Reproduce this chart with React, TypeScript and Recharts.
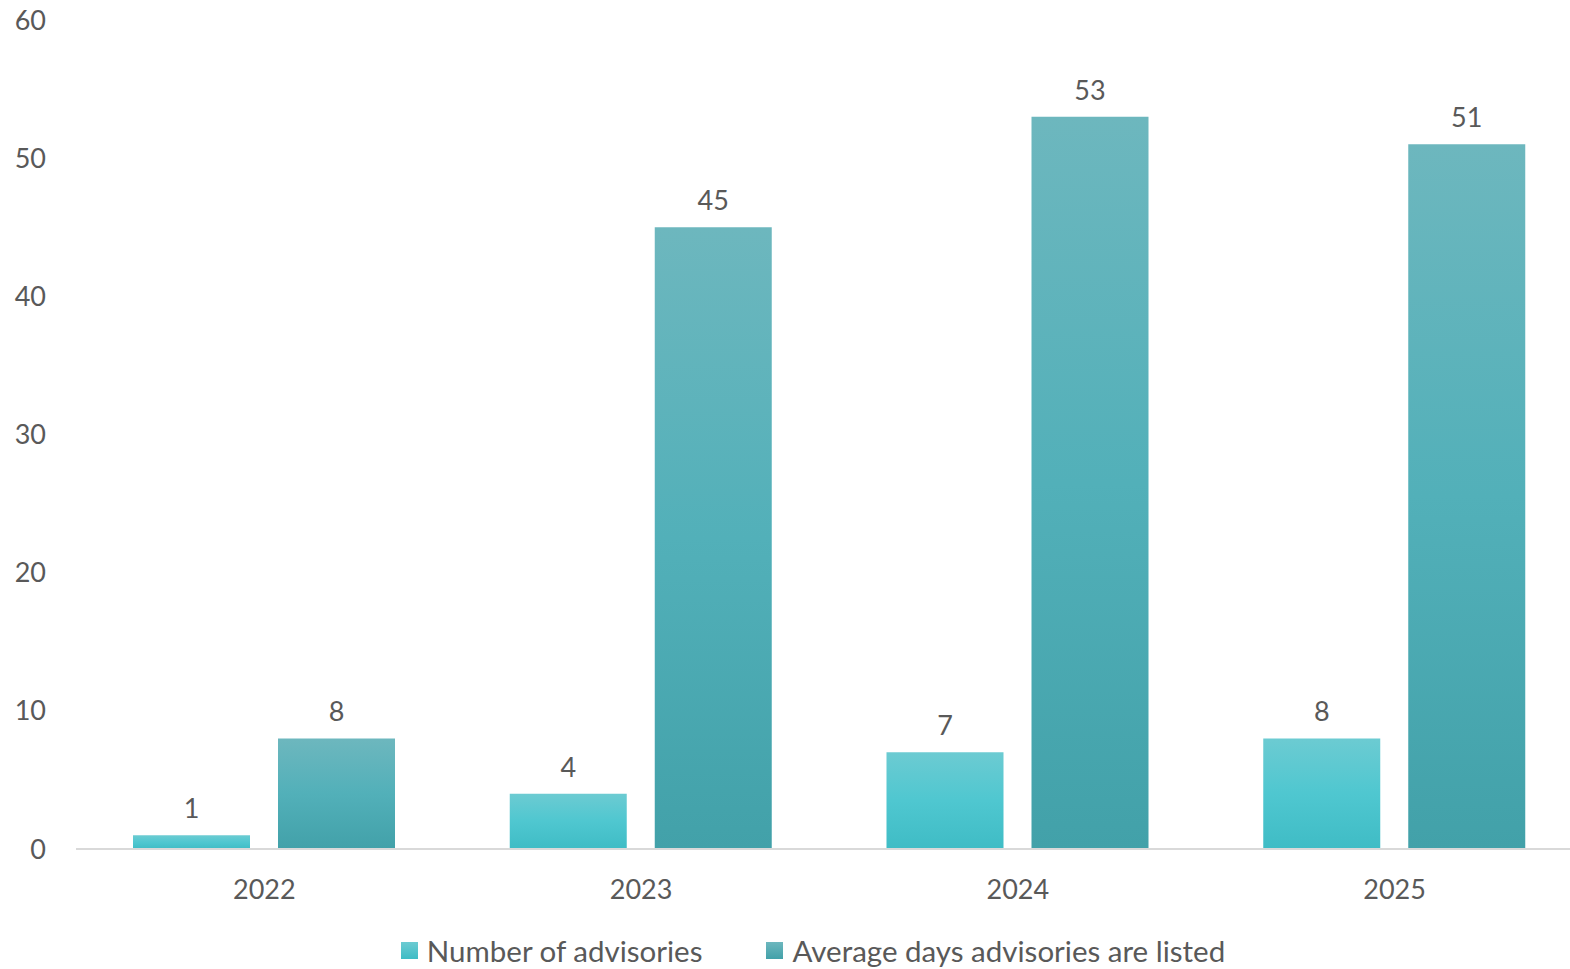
import { Bar, BarChart, LabelList, Legend, XAxis, YAxis } from "recharts";

const YEARS = ["2022", "2023", "2024", "2025"];
const ADVISORIES = [1, 4, 7, 8];
const AVG_DAYS = [8, 45, 53, 51];
const Y_TICKS = [0, 10, 20, 30, 40, 50, 60];

const TEXT = "#595959";
const FONT = "Lato, 'Open Sans', sans-serif";

const rows = YEARS.map((year, i) => ({
  year,
  advisories: ADVISORIES[i],
  days: AVG_DAYS[i],
}));

const legendItems = [
  { label: "Number of advisories", swatch: "linear-gradient(#6ccbd2, #3fbcc5)" },
  { label: "Average days advisories are listed", swatch: "linear-gradient(#6db7be, #42a1a9)" },
];

function ChartLegend() {
  return (
    <div
      style={{
        display: "flex",
        justifyContent: "center",
        alignItems: "center",
        gap: 64,
        height: 38,
        fontFamily: FONT,
        fontSize: 29.5,
        color: TEXT,
        paddingLeft: 43,
      }}
    >
      {legendItems.map((item) => (
        <div key={item.label} style={{ display: "flex", alignItems: "center", gap: 9 }}>
          <span style={{ width: 17, height: 17, background: item.swatch, display: "inline-block" }} />
          <span>{item.label}</span>
        </div>
      ))}
    </div>
  );
}

export default function App() {
  return (
    <div style={{ position: "absolute", left: 0, top: 0, width: 1570, height: 969, overflow: "hidden", background: "#fff" }}>
      <BarChart
        width={1583}
        height={969}
        data={rows}
        margin={{ top: 20, right: 0, left: 0, bottom: 0 }}
        barGap={28}
        barSize={117}
      >
        <defs>
          <linearGradient id="gradLight" x1="0" y1="0" x2="0" y2="1">
            <stop offset="0%" stopColor="#6ccbd2" />
            <stop offset="50%" stopColor="#4fc7d0" />
            <stop offset="100%" stopColor="#3fbcc5" />
          </linearGradient>
          <linearGradient id="gradDark" x1="0" y1="0" x2="0" y2="1">
            <stop offset="0%" stopColor="#6db7be" />
            <stop offset="50%" stopColor="#52b0b9" />
            <stop offset="100%" stopColor="#42a1a9" />
          </linearGradient>
        </defs>
        <XAxis
          dataKey="year"
          height={82}
          axisLine={{ stroke: "#d9d9d9", strokeWidth: 2 }}
          tickLine={false}
          tickMargin={25}
          tick={{ fill: TEXT, fontSize: 27, fontFamily: FONT }}
        />
        <YAxis
          width={76}
          domain={[0, 60]}
          ticks={Y_TICKS}
          axisLine={false}
          tickLine={false}
          tickMargin={24}
          tick={{ fill: TEXT, fontSize: 27, fontFamily: FONT }}
        />
        <Legend verticalAlign="bottom" content={<ChartLegend />} />
        <Bar dataKey="advisories" name="Number of advisories" fill="url(#gradLight)" isAnimationActive={false}>
          <LabelList dataKey="advisories" position="top" offset={17} fill={TEXT} fontSize={27} fontFamily={FONT} />
        </Bar>
        <Bar dataKey="days" name="Average days advisories are listed" fill="url(#gradDark)" isAnimationActive={false}>
          <LabelList dataKey="days" position="top" offset={17} fill={TEXT} fontSize={27} fontFamily={FONT} />
        </Bar>
      </BarChart>
    </div>
  );
}
